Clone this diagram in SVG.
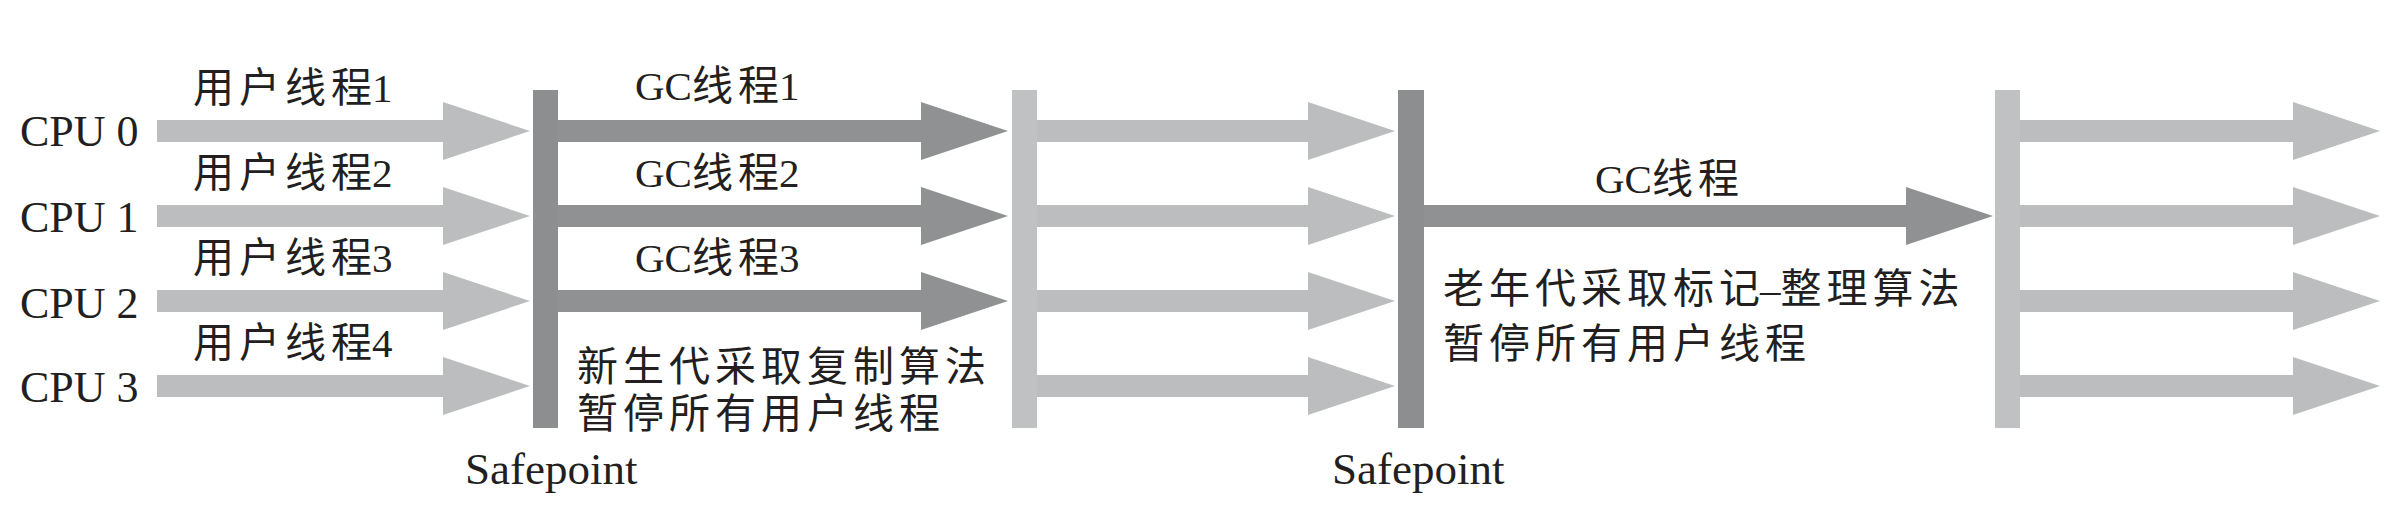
<svg xmlns="http://www.w3.org/2000/svg" width="2406" height="508" viewBox="0 0 2406 508">
<style>
text{font-family:"Liberation Serif","Noto Sans CJK SC",serif;fill:#231f20}
.cpu{font-size:44px}
.lbl{font-size:41px;letter-spacing:5px}
.lat{letter-spacing:0}
.sp{font-size:45px}
.light{stroke:#bcbdbf;stroke-width:22}
.dark{stroke:#909193;stroke-width:22}
.barL{fill:#c0c1c3}
.barD{fill:#8d8e90}
</style>
<defs>
<marker id="hl" viewBox="0 0 87 58" markerUnits="userSpaceOnUse" markerWidth="87" markerHeight="58" refX="0" refY="29" orient="auto"><path d="M0,0 L87,29 L0,58 Z" fill="#bcbdbf"/></marker>
<marker id="hd" viewBox="0 0 87 58" markerUnits="userSpaceOnUse" markerWidth="87" markerHeight="58" refX="0" refY="29" orient="auto"><path d="M0,0 L87,29 L0,58 Z" fill="#909193"/></marker>
</defs>
<g id="connectors">
<line class="light" x1="157" y1="131" x2="443" y2="131" marker-end="url(#hl)"/>
<line class="light" x1="157" y1="216" x2="443" y2="216" marker-end="url(#hl)"/>
<line class="light" x1="157" y1="301" x2="443" y2="301" marker-end="url(#hl)"/>
<line class="light" x1="157" y1="386" x2="443" y2="386" marker-end="url(#hl)"/>
<line class="dark" x1="556" y1="131" x2="921" y2="131" marker-end="url(#hd)"/>
<line class="dark" x1="556" y1="216" x2="921" y2="216" marker-end="url(#hd)"/>
<line class="dark" x1="556" y1="301" x2="921" y2="301" marker-end="url(#hd)"/>
<line class="light" x1="1035" y1="131" x2="1308" y2="131" marker-end="url(#hl)"/>
<line class="light" x1="1035" y1="216" x2="1308" y2="216" marker-end="url(#hl)"/>
<line class="light" x1="1035" y1="301" x2="1308" y2="301" marker-end="url(#hl)"/>
<line class="light" x1="1035" y1="386" x2="1308" y2="386" marker-end="url(#hl)"/>
<line class="dark" x1="1422" y1="216" x2="1906" y2="216" marker-end="url(#hd)"/>
<line class="light" x1="2018" y1="131" x2="2293" y2="131" marker-end="url(#hl)"/>
<line class="light" x1="2018" y1="216" x2="2293" y2="216" marker-end="url(#hl)"/>
<line class="light" x1="2018" y1="301" x2="2293" y2="301" marker-end="url(#hl)"/>
<line class="light" x1="2018" y1="386" x2="2293" y2="386" marker-end="url(#hl)"/>
</g>
<g id="cpu-labels">
<text class="cpu" x="20" y="146">CPU 0</text>
<text class="cpu" x="20" y="232">CPU 1</text>
<text class="cpu" x="20" y="318">CPU 2</text>
<text class="cpu" x="20" y="402">CPU 3</text>
</g>
<g id="user-thread-labels">
<text class="lbl" x="193" y="102">用户线<tspan class="lat">程1</tspan></text>
<text class="lbl" x="193" y="187">用户线<tspan class="lat">程2</tspan></text>
<text class="lbl" x="193" y="272">用户线<tspan class="lat">程3</tspan></text>
<text class="lbl" x="193" y="357">用户线<tspan class="lat">程4</tspan></text>
</g>
<g id="safepoint1">
<rect class="barD" x="533" y="90" width="25" height="338"/>
<text class="sp" x="465" y="484">Safepoint</text>
</g>
<g id="gc-young">
<text class="lbl" x="635" y="100"><tspan class="lat">GC</tspan>线<tspan class="lat">程1</tspan></text>
<text class="lbl" x="635" y="187"><tspan class="lat">GC</tspan>线<tspan class="lat">程2</tspan></text>
<text class="lbl" x="635" y="272"><tspan class="lat">GC</tspan>线<tspan class="lat">程3</tspan></text>
<text class="lbl" x="577" y="381">新生代采取复制算法</text>
<text class="lbl" x="577" y="428">暂停所有用户线程</text>
</g>
<g id="resume1">
<rect class="barL" x="1012" y="90" width="25" height="338"/>
</g>
<g id="safepoint2">
<rect class="barD" x="1398" y="90" width="26" height="338"/>
<text class="sp" x="1332" y="484">Safepoint</text>
</g>
<g id="gc-old">
<text class="lbl" x="1595" y="193"><tspan class="lat">GC</tspan>线程</text>
<text class="lbl" x="1443" y="303">老年代采取标<tspan class="lat">记–</tspan>整理算法</text>
<text class="lbl" x="1443" y="358">暂停所有用户线程</text>
</g>
<g id="resume2">
<rect class="barL" x="1995" y="90" width="25" height="338"/>
</g>
</svg>
